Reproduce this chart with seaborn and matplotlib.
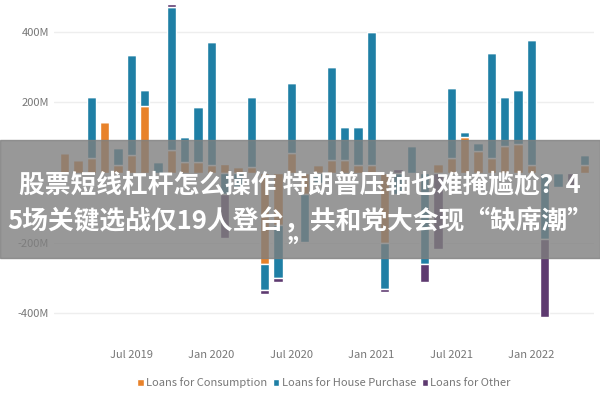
import matplotlib
matplotlib.use("Agg")
import matplotlib.pyplot as plt
import seaborn as sns
import numpy as np
import pandas as pd
from matplotlib.patches import Rectangle

months = pd.date_range("2019-02-01", periods=40, freq="MS")
consumption = [55,35,40,143,20,50,190,0,65,30,30,20,25,15,15,-260,-150,55,-60,20,
               35,35,20,20,-200,0,0,0,25,40,100,60,40,75,80,20,0,0,0,20]
house = [0,0,175,0,50,285,45,30,405,70,155,350,-60,-40,200,-75,-150,200,-137,-30,
         265,95,110,380,-130,-60,75,-260,0,200,15,25,300,140,155,355,-190,-40,0,30]
other = [0,0,0,0,0,0,0,0,10,0,0,0,-125,0,0,-10,-10,0,0,0,
         0,0,0,0,-10,10,0,-50,-217,0,0,0,0,0,0,0,-220,0,-40,0]
series = {"Loans for Consumption": consumption,
          "Loans for House Purchase": house,
          "Loans for Other": other}
colors = ["#E8822A", "#1F7FA5", "#5E3A70"]
tick_dates = ["2019-07-01", "2020-01-01", "2020-07-01", "2021-01-01", "2021-07-01", "2022-01-01"]
tick_labels = ["Jul 2019", "Jan 2020", "Jul 2020", "Jan 2021", "Jul 2021", "Jan 2022"]
ytick_vals = [-400, -200, 200, 400]
ytick_labels = ["-400M", "-200M", "200M", "400M"]

sns.set_theme(style="white")
plt.rcParams['font.family'] = ['Noto Sans CJK SC', 'DejaVu Sans']
fig = plt.figure(figsize=(6, 4), dpi=100)
ax = fig.add_axes([0.09, 0.1375, 0.90, 0.8625])
x = np.arange(len(months))
pos_b = np.zeros(len(x)); neg_b = np.zeros(len(x))
for (name, vals), c in zip(series.items(), colors):
    v = np.array(vals, float)
    bottom = np.where(v >= 0, pos_b, neg_b)
    ax.bar(x, v, bottom=bottom, width=0.7, color=c, label=name)
    pos_b += np.where(v >= 0, v, 0); neg_b += np.where(v < 0, v, 0)
ax.set_ylim(-490, 490)
ax.set_xlim(-0.8, len(x) - 0.3)
ax.set_yticks(ytick_vals, ytick_labels)
tpos = [list(months).index(pd.Timestamp(d)) for d in tick_dates]
ax.set_xticks(tpos, tick_labels)
ax.tick_params(colors="#777777", labelsize=8, length=0)
ax.grid(axis="y", color="#eeeeee", linewidth=1)
for s in ax.spines.values():
    s.set_visible(False)
ax.legend(loc="upper center", bbox_to_anchor=(0.5, -0.065), ncol=3, frameon=False,
          fontsize=8, handlelength=0.6, handletextpad=0.2, columnspacing=0.5,
          labelcolor="#777777")
fig.patches.append(Rectangle((0, 0.355), 1, 0.295, transform=fig.transFigure,
                             color="#7f7f7f", alpha=0.8, zorder=5))
fig.text(0.5, 0.537, "股票短线杠杆怎么操作 特朗普压轴也难掩尴尬？4", ha="center", va="center",
         color="white", fontsize=18.5, fontweight="bold", zorder=6)
fig.text(0.5, 0.445, "5场关键选战仅19人登台，共和党大会现“缺席潮”", ha="center", va="center",
         color="white", fontsize=18.5, fontweight="bold", zorder=6)
fig.text(0.5, 0.375, "”", ha="center", va="center",
         color="white", fontsize=18.5, fontweight="bold", zorder=6)
fig.savefig("out.png", dpi=100)
